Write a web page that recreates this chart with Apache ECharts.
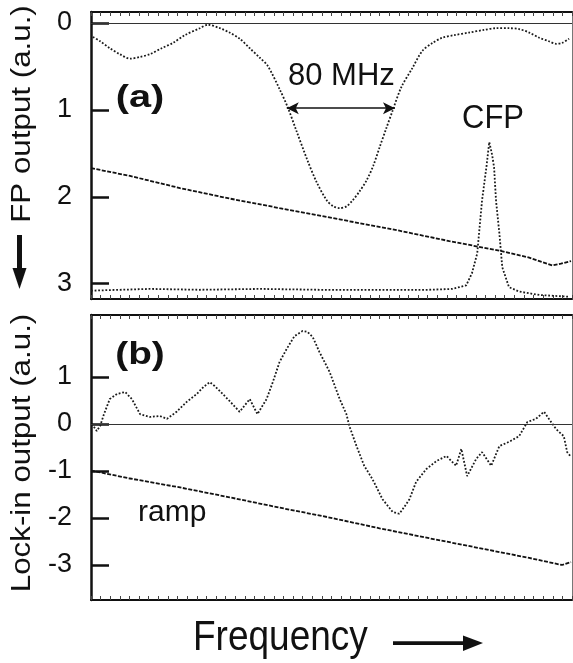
<!DOCTYPE html>
<html>
<head>
<meta charset="utf-8">
<script src="https://cdn.jsdelivr.net/npm/echarts@6/dist/echarts.min.js"></script>
<style>
  html, body { margin: 0; padding: 0; background: #fff; }
  #chart { width: 573px; height: 663px; }
</style>
</head>
<body>
<div id="chart"></div>
<script>
// (a) Fabry-Perot transmission, ramp and confocal FP peak (axis points down)
const freqFP = [0.4,1.9,3.9,6.0,8.1,10.2,12.2,14.7,17.0,19.5,22.6,24.3,26.8,28.8,30.9,33.0,35.1,36.7,39.2,40.9,42.7,45.0,46.9,49.0,50.4,51.7,53.1,54.4,55.8,57.3,58.7,60.0,61.4,62.7,64.5,66.8,68.9,71.0,73.0,75.5,78.6,81.7,84.2,86.9,89.0,91.1,93.2,95.2,96.7,97.9,99.4];
const fpOut  = [0.16,0.21,0.29,0.36,0.41,0.39,0.36,0.29,0.23,0.14,0.06,0.02,0.06,0.11,0.18,0.29,0.40,0.49,0.76,0.97,1.24,1.58,1.83,2.04,2.11,2.13,2.11,2.04,1.94,1.81,1.64,1.43,1.21,1.01,0.74,0.52,0.32,0.23,0.17,0.14,0.11,0.08,0.06,0.06,0.07,0.11,0.17,0.21,0.24,0.23,0.18];

const freqRampA = [0,8.1,18.5,28.8,39.2,51.7,64.1,74.5,84.9,91.1,95.9,97.7,99.8];
const rampA     = [1.67,1.76,1.90,2.02,2.13,2.26,2.39,2.51,2.62,2.70,2.79,2.77,2.74];

const freqCFP = [0,12.2,22.6,35.1,47.5,60.0,70.3,75.1,78.0,79.2,80.3,81.3,82.2,82.8,83.4,83.8,84.2,84.9,85.5,86.9,89.0,93.2,99.4];
const cfpOut  = [3.08,3.06,3.07,3.06,3.07,3.07,3.07,3.06,3.02,2.88,2.65,2.04,1.66,1.37,1.52,1.66,2.04,2.42,2.81,3.04,3.09,3.13,3.15];

// (b) lock-in error signal and ramp
const freqLock = [0.6,1.2,1.9,2.7,3.9,5.4,7.1,8.5,10.2,12.2,14.3,15.8,17.8,19.9,22.0,23.4,24.7,25.7,26.8,28.8,30.9,33.0,34.6,36.5,37.8,39.2,40.7,42.3,44.0,45.0,46.1,47.5,49.6,51.7,53.1,53.7,55.2,56.8,58.5,60.6,62.7,64.1,65.1,66.2,67.6,69.7,71.8,73.9,75.9,77.0,78.2,80.1,81.3,83.2,84.9,86.9,89.0,90.7,92.5,94.2,95.2,96.7,98.3,99.0,99.8];
const lockIn   = [-0.06,-0.15,-0.04,0.21,0.53,0.64,0.68,0.53,0.21,0.15,0.17,0.11,0.26,0.47,0.64,0.79,0.89,0.81,0.70,0.49,0.26,0.53,0.21,0.53,0.89,1.32,1.60,1.87,1.98,1.96,1.85,1.53,1.11,0.53,0.21,-0.04,-0.47,-0.89,-1.17,-1.60,-1.87,-1.91,-1.77,-1.60,-1.23,-0.96,-0.79,-0.68,-0.89,-0.53,-1.11,-0.74,-0.60,-0.89,-0.47,-0.38,-0.26,0.04,0.11,0.26,0.11,-0.11,-0.26,-0.60,-0.70];

const freqRampB = [0,8.1,18.5,28.8,39.2,49.6,60.0,70.3,80.7,91.1,97.9,99.8];
const rampB     = [-0.99,-1.16,-1.35,-1.56,-1.78,-1.99,-2.22,-2.43,-2.64,-2.85,-3.00,-2.94];

// tick labels
const fpTicks = [0, 1, 2, 3];
const lockTicks = [-3, -2, -1, 0, 1];

// 80 MHz linewidth marker (frequency ends, level)
const fwhmMarker = { from: 40.7, to: 63.2, level: 0.98 };

const zip = (xs, ys) => xs.map((x, i) => [x, ys[i]]);

const FONT = '"Liberation Sans", Arial, sans-serif';
const INK = '#111';

function xAxisDef(grid, pos) {
  return {
    type: 'value', gridIndex: grid, position: pos,
    min: 0, max: 100, interval: 2,
    axisLine: { show: true, onZero: false, lineStyle: { color: INK, width: 2 } },
    axisTick: { show: true, inside: true, length: 4, lineStyle: { color: '#444', width: 1 } },
    axisLabel: { show: false },
    splitLine: { show: false }
  };
}

function yAxisDef(grid, opts) {
  return Object.assign({
    type: 'value', gridIndex: grid, position: 'left',
    axisLine: { show: true, onZero: false, lineStyle: { color: INK, width: 2.5 } },
    axisTick: { show: true, inside: true, length: 18, lineStyle: { color: INK, width: 2.5 } },
    axisLabel: { show: true, fontSize: 27, fontFamily: FONT, color: INK, margin: 19 },
    splitLine: { show: false }
  }, opts);
}

function sideAxis(grid, min, max, inverse) {
  return {
    type: 'value', gridIndex: grid, position: 'right', min, max, inverse: !!inverse,
    axisLine: { show: true, onZero: false, lineStyle: { color: '#777', width: 1 } },
    axisTick: { show: false }, axisLabel: { show: false }, splitLine: { show: false }
  };
}

const topMin = -0.1266, topMax = 3.1761;
const botMin = -3.745, botMax = 2.319;

const yTop = yAxisDef(0, { inverse: true, min: topMin, max: topMax });
yTop.axisTick.customValues = fpTicks;
yTop.axisLabel.customValues = fpTicks;

const yBot = yAxisDef(1, { min: botMin, max: botMax });
yBot.axisTick.customValues = lockTicks;
yBot.axisLabel.customValues = lockTicks;

const traceStyle = { color: '#1a1a1a', width: 1.8, type: 'dotted' };
const rampStyle = { color: '#111', width: 1.8, type: [4, 1.5] };

const zeroLine = {
  silent: true, symbol: 'none', label: { show: false },
  lineStyle: { type: 'solid', color: '#333', width: 1 },
  data: [{ yAxis: 0 }]
};

const option = {
  backgroundColor: '#fff',
  animation: false,
  grid: [
    { left: 91, top: 12, width: 481, height: 287 },
    { left: 91, top: 315, width: 481, height: 285 }
  ],
  xAxis: [xAxisDef(0, 'bottom'), xAxisDef(0, 'top'), xAxisDef(1, 'bottom'), xAxisDef(1, 'top')],
  yAxis: [yTop, sideAxis(0, topMin, topMax, true), yBot, sideAxis(1, botMin, botMax)],
  series: [
    {
      name: 'FP', type: 'line', xAxisIndex: 0, yAxisIndex: 0,
      data: zip(freqFP, fpOut), showSymbol: false, smooth: 0.3,
      lineStyle: traceStyle,
      markLine: {
        silent: true, symbol: ['arrow', 'arrow'], symbolSize: [9, 12],
        label: { show: false },
        lineStyle: { type: 'solid', color: INK, width: 1.5 },
        data: [[{ coord: [fwhmMarker.from, fwhmMarker.level] }, { coord: [fwhmMarker.to, fwhmMarker.level] }]]
      }
    },
    {
      name: 'ramp (a)', type: 'line', xAxisIndex: 0, yAxisIndex: 0,
      data: zip(freqRampA, rampA), showSymbol: false,
      lineStyle: rampStyle, markLine: zeroLine
    },
    {
      name: 'CFP', type: 'line', xAxisIndex: 0, yAxisIndex: 0,
      data: zip(freqCFP, cfpOut), showSymbol: false,
      lineStyle: traceStyle
    },
    {
      name: 'lock-in', type: 'line', xAxisIndex: 2, yAxisIndex: 2,
      data: zip(freqLock, lockIn), showSymbol: false,
      lineStyle: traceStyle, markLine: zeroLine
    },
    {
      name: 'ramp (b)', type: 'line', xAxisIndex: 2, yAxisIndex: 2,
      data: zip(freqRampB, rampB), showSymbol: false,
      lineStyle: rampStyle
    }
  ],
  graphic: [
    { type: 'text', x: 23, y: 114, rotation: Math.PI / 2, scaleX: 1.16,
      style: { text: 'FP output (a.u.)', font: '27px ' + FONT, fill: INK, align: 'center', verticalAlign: 'middle' } },
    { type: 'rect', shape: { x: 17, y: 235, width: 5, height: 36 }, style: { fill: INK } },
    { type: 'polygon', shape: { points: [[12.5, 268], [26.5, 268], [19.5, 289]] }, style: { fill: INK } },
    { type: 'text', x: 23, y: 453, rotation: Math.PI / 2, scaleX: 1.16,
      style: { text: 'Lock-in output (a.u.)', font: '27px ' + FONT, fill: INK, align: 'center', verticalAlign: 'middle' } },
    { type: 'text', x: 193, y: 638, scaleY: 1.15,
      style: { text: 'Frequency', font: '37px ' + FONT, fill: INK, align: 'left', verticalAlign: 'middle' } },
    { type: 'rect', shape: { x: 393, y: 641.3, width: 74, height: 3.6 }, style: { fill: INK } },
    { type: 'polygon', shape: { points: [[463, 635.5], [463, 651], [483, 643]] }, style: { fill: INK } },
    { type: 'text', x: 140, y: 98, scaleX: 1.28,
      style: { text: '(a)', font: 'bold 31px ' + FONT, fill: INK, align: 'center', verticalAlign: 'middle' } },
    { type: 'text', x: 140, y: 355, scaleX: 1.25,
      style: { text: '(b)', font: 'bold 31px ' + FONT, fill: INK, align: 'center', verticalAlign: 'middle' } },
    { type: 'text', x: 288, y: 76,
      style: { text: '80 MHz', font: '31px ' + FONT, fill: INK, align: 'left', verticalAlign: 'middle' } },
    { type: 'text', x: 462, y: 119, scaleY: 1.05,
      style: { text: 'CFP', font: '31px ' + FONT, fill: INK, align: 'left', verticalAlign: 'middle' } },
    { type: 'text', x: 138, y: 513,
      style: { text: 'ramp', font: '30px ' + FONT, fill: INK, align: 'left', verticalAlign: 'middle' } }
  ]
};

const chart = echarts.init(document.getElementById('chart'), null, { renderer: 'canvas' });
chart.setOption(option);
</script>
</body>
</html>
